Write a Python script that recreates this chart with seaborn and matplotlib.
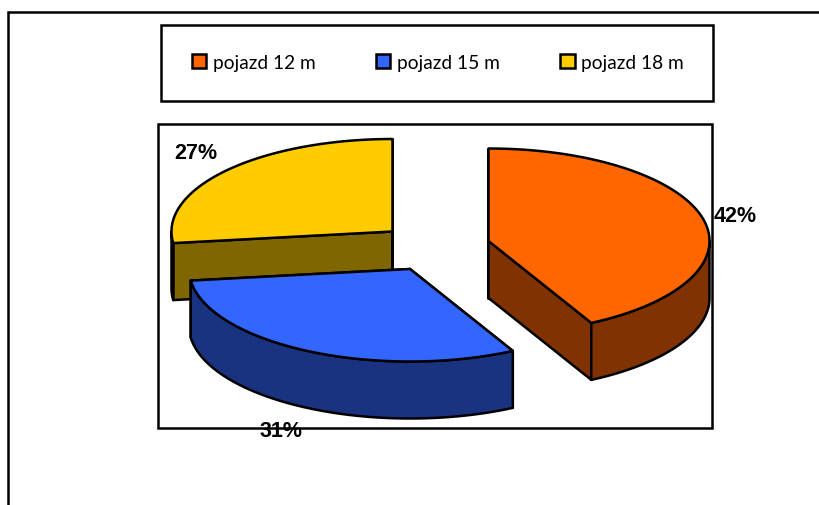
import numpy as np
import matplotlib
matplotlib.use("Agg")
import matplotlib.pyplot as plt
from matplotlib.patches import Patch, Rectangle
import seaborn as sns

categories = ["pojazd 12 m", "pojazd 15 m", "pojazd 18 m"]
shares = [42.3, 30.7, 27.0]
top_colors = ["#FF6600", "#3366FF", "#FFCC00"]
wall_colors = ["#803300", "#1A3380", "#806600"]

# layout in pixel units of the 820x506 canvas
centers = [(488.5, 242), (410, 270), (392.5, 232.5)]
label_pos = [(735.5, 216), (281, 432), (196, 153)]
RX, RY, DEPTH = 221, 92.5, 57
draw_order = [2, 0, 1]

sns.set_theme(style="white")
plt.rcParams["font.family"] = ["Liberation Sans", "DejaVu Sans"]

fig = plt.figure(figsize=(8.2, 5.06), dpi=100, facecolor="white")
ax = fig.add_axes([0, 0, 1, 1])
ax.set_xlim(0, 820)
ax.set_ylim(506, 0)
ax.axis("off")

# page frame
ax.plot([8.5, 8.5, 820], [506, 12.5, 12.5], color="black", lw=1.8, solid_joinstyle="miter", zorder=1)
# legend and plot boxes
ax.add_patch(Rectangle((161.5, 25.5), 552, 76, fc="white", ec="black", lw=1.8, zorder=1))
ax.add_patch(Rectangle((158.5, 124.5), 554, 304, fc="white", ec="black", lw=1.8, zorder=1))


def rim(t, c, dy=0.0):
    return c[0] + RX * np.sin(t), c[1] - RY * np.cos(t) + dy


edges = np.deg2rad(np.cumsum([0] + shares) * 3.6)
z = 2
for i in draw_order:
    c = centers[i]
    t0, t1 = edges[i], edges[i + 1]
    style = dict(edgecolor="black", linewidth=1.8, joinstyle="round")
    # radial walls
    for t in (t0, t1):
        x, y = rim(t, c)
        ax.fill([c[0], x, x, c[0]], [c[1], y, y + DEPTH, c[1] + DEPTH],
                facecolor=wall_colors[i], zorder=z, **style)
    # outer curved wall (only its front-facing part)
    a, b = max(t0, np.pi / 2), min(t1, 3 * np.pi / 2)
    if b > a:
        t = np.linspace(a, b, 120)
        xs, ys = rim(t, c)
        ax.fill(np.r_[xs, xs[::-1]], np.r_[ys, ys[::-1] + DEPTH],
                facecolor=wall_colors[i], zorder=z, **style)
    # top face
    t = np.linspace(t0, t1, 240)
    xs, ys = rim(t, c)
    ax.fill(np.r_[c[0], xs], np.r_[c[1], ys], facecolor=top_colors[i], zorder=z + 0.5, **style)
    z += 1

for share, (x, y) in zip(shares, label_pos):
    ax.text(x, y, f"{share:.0f}%", ha="center", va="center", fontsize=15.5,
            fontweight="bold", color="black", zorder=10)

handles = [Patch(facecolor=col, edgecolor="black", linewidth=1.8) for col in top_colors]
ax.legend(handles, categories, ncol=3, loc="center", bbox_to_anchor=(437.8, 63.5),
          bbox_transform=ax.transData, frameon=False, handlelength=0.75, handleheight=0.75,
          handletextpad=0.35, columnspacing=3.15,
          prop={"family": "Lato", "size": 13.8}, labelcolor="black")

fig.savefig("out.png", dpi=100)
